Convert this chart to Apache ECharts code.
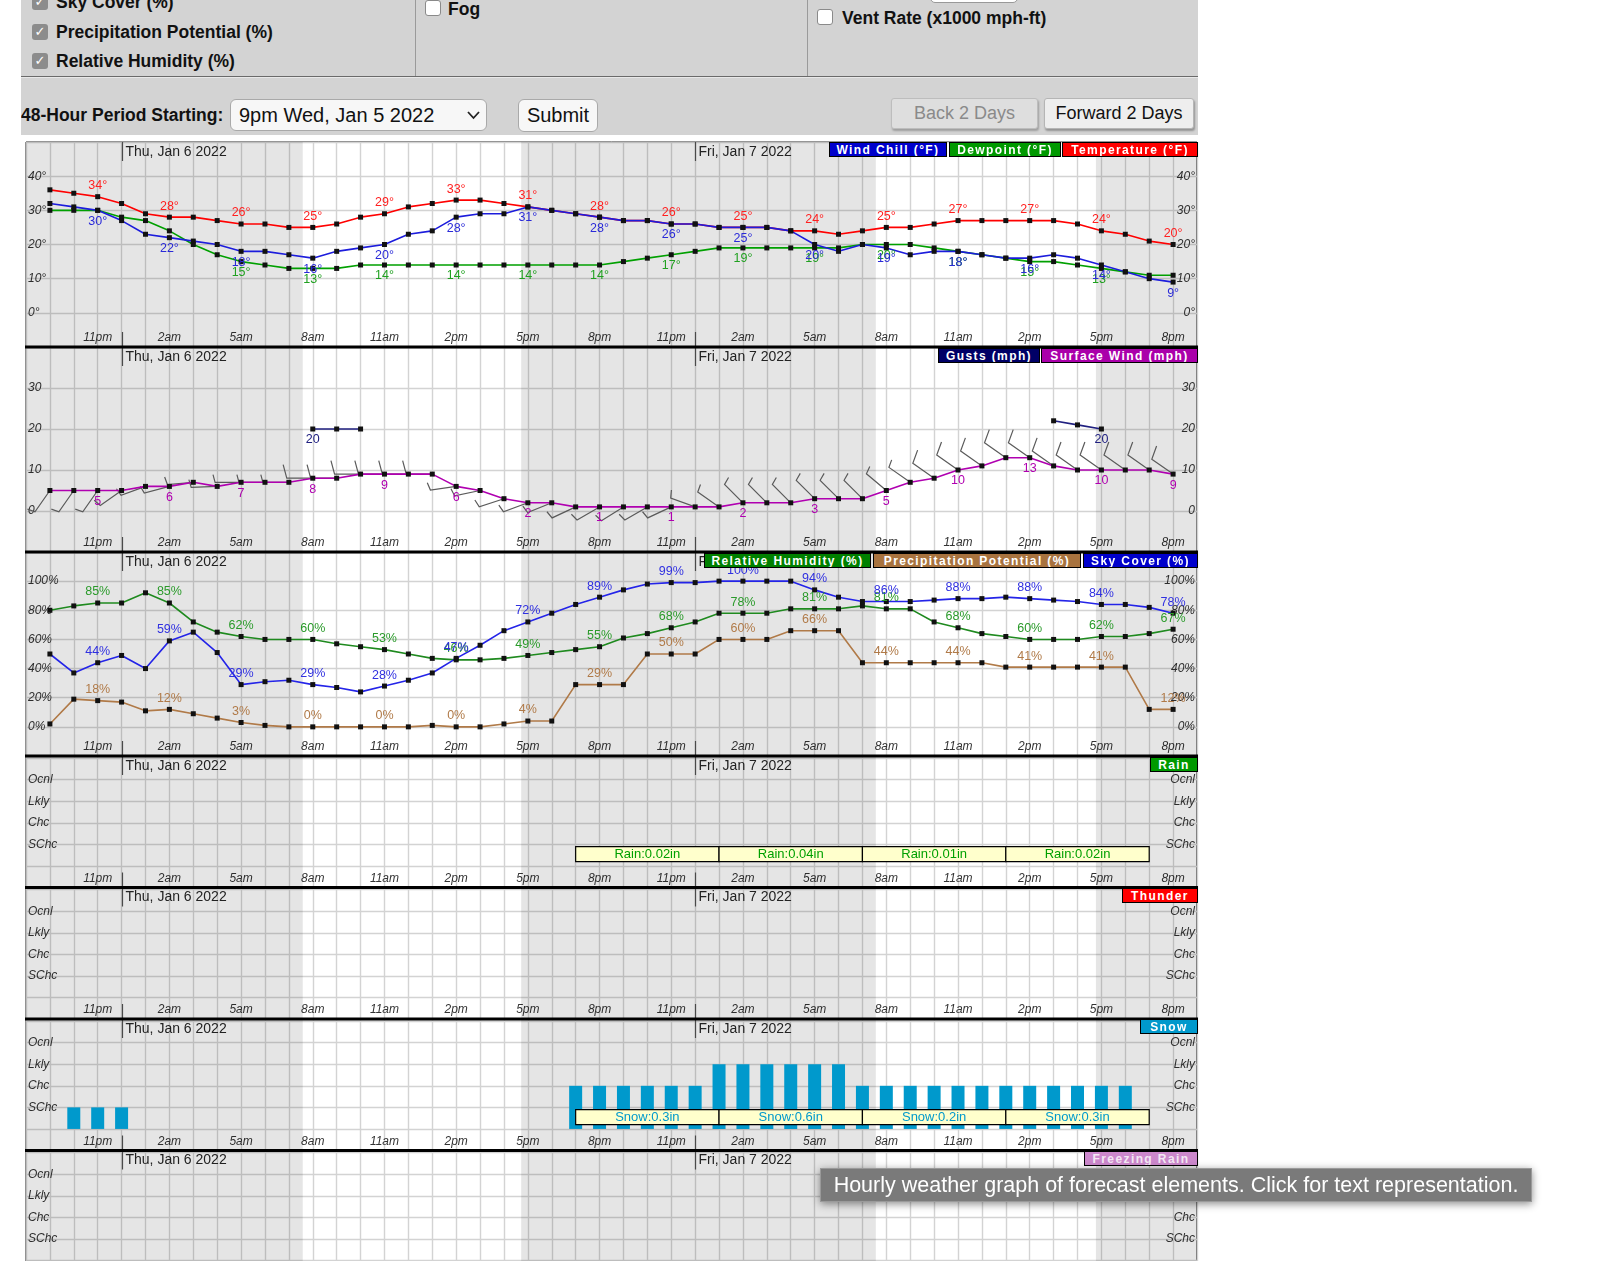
<!DOCTYPE html>
<html><head><meta charset="utf-8">
<script src="https://cdn.jsdelivr.net/npm/echarts@6/dist/echarts.min.js"></script>
<style>
html,body{margin:0;padding:0;background:#fff;width:1600px;height:1261px;overflow:hidden;font-family:"Liberation Sans",Arial,Helvetica,sans-serif;}
#chart{position:absolute;left:0;top:0;width:1600px;height:1300px;}
.a{position:absolute;white-space:nowrap;}
.cb{position:absolute;width:16px;height:16px;border-radius:3px;background:#8c8c8c;color:#fff;font:bold 13px/16px "DejaVu Sans",sans-serif;text-align:center;}
.cbu{position:absolute;width:16px;height:16px;border-radius:3px;background:#fff;border:1px solid #8a8a8a;box-sizing:border-box;}
.lab{position:absolute;font:bold 17.5px/20px "Liberation Sans",Arial,sans-serif;color:#111;white-space:nowrap;}
.btn{position:absolute;box-sizing:border-box;border:1px solid #a9a9a9;border-radius:6px;text-align:center;white-space:nowrap;}
.lg{position:absolute;box-sizing:border-box;height:15px;line-height:14px;font:bold 12px/14px "Liberation Sans",Arial,sans-serif;color:#fff;letter-spacing:1.4px;text-align:center;border:1px solid #000;white-space:nowrap;overflow:hidden;}
</style></head><body>
<div id="chart"></div>

<!-- form area -->
<div class="a" style="left:21px;top:0;width:1177px;height:135px;background:#d3d3d3;"></div>
<div class="a" style="left:415px;top:0;width:1px;height:76px;background:#9a9a9a;"></div>
<div class="a" style="left:807px;top:0;width:1px;height:76px;background:#9a9a9a;"></div>
<div class="a" style="left:21px;top:76px;width:1177px;height:1px;background:#6a6a6a;"></div>
<div class="a" style="left:21px;top:77px;width:1177px;height:1px;background:#e8e8e8;"></div>
<div class="a" style="left:930px;top:-22px;width:88px;height:25px;background:#fff;border:1px solid #999;border-radius:5px;box-sizing:border-box;"></div>

<div class="cb" style="left:32px;top:-6px;">&#10003;</div><div class="lab" style="left:56px;top:-8px;">Sky Cover (%)</div>
<div class="cb" style="left:32px;top:24px;">&#10003;</div><div class="lab" style="left:56px;top:22px;">Precipitation Potential (%)</div>
<div class="cb" style="left:32px;top:53px;">&#10003;</div><div class="lab" style="left:56px;top:51px;">Relative Humidity (%)</div>
<div class="cbu" style="left:425px;top:0px;"></div><div class="lab" style="left:448px;top:-1px;">Fog</div>
<div class="cbu" style="left:817px;top:9px;"></div><div class="lab" style="left:842px;top:8px;">Vent Rate (x1000 mph-ft)</div>

<div class="lab" style="left:21px;top:105px;">48-Hour Period Starting:</div>
<div class="btn" style="left:230px;top:99px;width:257px;height:32px;background:#f7f7f7;font:20px/30px 'Liberation Sans',Arial,sans-serif;text-align:left;padding-left:8px;color:#111;">9pm Wed, Jan 5 2022
  <svg style="position:absolute;left:236px;top:11px" width="13" height="9"><polyline points="1,1 6.5,7 12,1" fill="none" stroke="#222" stroke-width="1.8"/></svg></div>
<div class="btn" style="left:518px;top:99px;width:80px;height:33px;background:#f7f7f7;font:20px/31px 'Liberation Sans',Arial,sans-serif;color:#111;">Submit</div>
<div class="btn" style="left:891px;top:98px;width:147px;height:31px;background:#dedede;border-color:#bdbdbd;border-radius:3px;font:18px/29px 'Liberation Sans',Arial,sans-serif;color:#8a8a8a;box-shadow:1px 2px 2px rgba(0,0,0,0.25);">Back 2 Days</div>
<div class="btn" style="left:1044px;top:98px;width:150px;height:31px;background:#eeeeee;border-color:#b5b5b5;border-radius:3px;font:18px/29px 'Liberation Sans',Arial,sans-serif;color:#111;box-shadow:1px 2px 2px rgba(0,0,0,0.3);">Forward 2 Days</div>

<!-- legend boxes -->
<div class="lg" style="left:829px;top:142px;width:118px;background:#0000cc;">Wind Chill (°F)</div>
<div class="lg" style="left:949px;top:142px;width:112px;background:#009900;">Dewpoint (°F)</div>
<div class="lg" style="left:1062px;top:142px;width:136px;background:#ff0000;">Temperature (°F)</div>
<div class="lg" style="left:938px;top:348px;width:102px;background:#000066;">Gusts (mph)</div>
<div class="lg" style="left:1041px;top:348px;width:157px;background:#aa00aa;">Surface Wind (mph)</div>
<div class="lg" style="left:704px;top:553px;width:167px;background:#008000;">Relative Humidity (%)</div>
<div class="lg" style="left:873px;top:553px;width:208px;background:#a8733f;">Precipitation Potential (%)</div>
<div class="lg" style="left:1083px;top:553px;width:115px;background:#0000cc;">Sky Cover (%)</div>
<div class="lg" style="left:1150px;top:757px;width:48px;background:#009900;">Rain</div>
<div class="lg" style="left:1122px;top:888px;width:76px;background:#ff0000;">Thunder</div>
<div class="lg" style="left:1140px;top:1019px;width:58px;background:#0099cc;">Snow</div>
<div class="lg" style="left:1084px;top:1151px;width:114px;background:#cc88cc;color:#f4e8f4;">Freezing Rain</div>

<div class="a" style="left:820px;top:1168px;width:712px;height:34px;background:#7a7a7a;border:1px solid #9a9a9a;box-sizing:border-box;color:#fff;font:21.5px/32px 'Liberation Sans',Arial,sans-serif;text-align:center;box-shadow:0 2px 8px rgba(0,0,0,0.45);">Hourly weather graph of forecast elements. Click for text representation.</div>

<script>
// ---------------- data ----------------
const hourLabels = ['9pm','10pm','11pm','12am','1am','2am','3am','4am','5am','6am','7am','8am','9am','10am','11am','12pm','1pm','2pm','3pm','4pm','5pm','6pm','7pm','8pm',
                    '9pm','10pm','11pm','12am','1am','2am','3am','4am','5am','6am','7am','8am','9am','10am','11am','12pm','1pm','2pm','3pm','4pm','5pm','6pm','7pm','8pm'];
const dateLabels = ['Thu, Jan 6 2022','Fri, Jan 7 2022'];
const midnightIdx = [3, 27];
const nightBands = [[-1, 10.58], [19.72, 34.56], [43.77, 48]];

const temperature = [36,35,34,32,29,28,28,27,26,26,25,25,26,28,29,31,32,33,33,32,31,30,29,28,
                     27,27,26,26,25,25,25,24,24,23,24,25,25,26,27,27,27,27,27,26,24,23,21,20];
const windChill   = [32,31,30,27,23,22,21,20,18,18,17,16,18,19,20,23,24,28,29,29,31,30,29,28,
                     27,27,26,26,25,25,25,24,20,18,20,19,17,18,18,17,16,16,17,16,14,12,10,9];
const dewpoint    = [30,30,30,28,27,24,20,17,15,14,13,13,13,14,14,14,14,14,14,14,14,14,14,14,
                     15,16,17,18,19,19,19,19,19,19,20,20,20,19,18,17,16,15,15,14,13,12,11,11];
const dewLabelIdx = [8,11,14,17,20,23,26,29,32,35,38,41,44];

const surfaceWind = [5,5,5,5,6,6,7,6,7,7,7,8,8,9,9,9,9,6,5,3,2,2,1,1,
                     1,1,1,1,1,2,2,2,3,3,3,5,7,8,10,11,13,13,11,10,10,10,10,9];
const windDir     = [215,215,215,235,250,255,265,268,270,270,270,270,270,270,270,270,270,262,258,252,250,248,245,240,
                     238,240,245,290,305,315,315,315,315,315,315,310,305,305,305,305,305,305,305,305,305,305,305,305];
const gusts       = [null,null,null,null,null,null,null,null,null,null,null,20,20,20,null,null,null,null,null,null,null,null,null,null,
                     null,null,null,null,null,null,null,null,null,null,null,null,null,null,null,null,null,null,22,21,20,null,null,null];
const gustLabelIdx = [11, 44];

const relHumidity     = [80,83,85,85,92,85,72,65,62,60,60,60,57,55,53,50,47,46,46,47,49,51,53,55,
                         61,64,68,72,78,78,78,81,81,81,83,81,81,72,68,64,62,60,60,60,62,62,64,67];
const skyCover        = [50,37,44,49,40,59,65,51,29,31,32,29,27,24,28,32,37,47,56,66,72,78,84,89,
                         94,98,99,99,100,100,100,100,94,89,86,86,86,87,88,88,89,88,87,86,84,84,82,78];
const precipPotential = [2,19,18,17,11,12,9,6,3,1,0,0,0,0,0,0,1,0,0,2,4,4,29,29,
                         29,50,50,50,60,60,60,66,66,66,44,44,44,44,44,44,41,41,41,41,41,41,12,12];

const levelLabels = ['', 'SChc', 'Chc', 'Lkly', 'Ocnl'];
const snowLevel = [0,1,1,1,0,0,0,0,0,0,0,0,0,0,0,0,0,0,0,0,0,0,2,2,
                   2,2,2,2,3,3,3,3,3,3,2,2,2,2,2,2,2,2,2,2,2,2,0,0];
const qpfPeriods  = [[22,28],[28,34],[34,40],[40,46]];
const rainAmounts = ['0.02','0.04','0.01','0.02'];
const snowAmounts = ['0.3','0.6','0.2','0.3'];

// ---------------- layout ----------------
const FONT = '"Liberation Sans", Arial, Helvetica, sans-serif';
const GL = 26, GW = 1171;
const every3 = hourLabels.map((h,i)=>i).filter(i=>(i-2)%3===0);
const panels = [
  {top:142,   h:205,   min:-10, max:50,  interval:10, fmt:v=>(v>=0&&v<=40)?v+'°':''},
  {top:347,   h:205,   min:-10, max:40,  interval:10, fmt:v=>(v>=0&&v<=30)?String(v):''},
  {top:552,   h:204,   min:-20, max:120, interval:20, fmt:v=>(v>=0&&v<=100)?v+'%':''},
  {top:756,   h:131.5, min:-1,  max:5.1, interval:1,  fmt:v=>levelLabels[v]||''},
  {top:887.5, h:131.5, min:-1,  max:5.1, interval:1,  fmt:v=>levelLabels[v]||''},
  {top:1019,  h:131.5, min:-1,  max:5.1, interval:1,  fmt:v=>levelLabels[v]||''},
  {top:1150.5,h:131.5, min:-1,  max:5.1, interval:1,  fmt:v=>levelLabels[v]||''}
];
const gridLine = {color:'#d3d3d3', width:1.4};
const axisFont = {fontStyle:'italic', fontSize:12, color:'#333', fontFamily:FONT};

const grid = [], xAxis = [], yAxis = [], series = [];
panels.forEach((p,g)=>{
  grid.push({left:GL, top:p.top, width:GW, height:p.h, show:true, borderColor:'#000', borderWidth:1, backgroundColor:'transparent'});
  xAxis.push({gridIndex:g, type:'value', min:-1, max:48, interval:1,
    axisLine:{show:false}, axisTick:{show:false},
    splitLine:{show:true, lineStyle:gridLine},
    axisLabel:Object.assign({inside:true, margin:3, verticalAlign:'bottom',
      formatter:v=>(Number.isInteger(v)&&v>=0&&v<=47&&(v-2)%3===0)?hourLabels[v]:''}, axisFont)});
  yAxis.push({gridIndex:g, type:'value', min:p.min, max:p.max, interval:p.interval, position:'left',
    axisLine:{show:false}, axisTick:{show:false},
    splitLine:{show:true, lineStyle:gridLine},
    axisLabel:Object.assign({inside:true, margin:2, formatter:p.fmt}, axisFont)});
  yAxis.push({gridIndex:g, type:'value', min:p.min, max:p.max, interval:p.interval, position:'right',
    axisLine:{show:false}, axisTick:{show:false}, splitLine:{show:false},
    axisLabel:Object.assign({inside:true, margin:2, formatter:p.fmt}, axisFont)});
  // night shading
  series.push({type:'line', xAxisIndex:g, yAxisIndex:2*g, data:[], silent:true, z:1,
    markArea:{silent:true, itemStyle:{color:'rgba(0,0,0,0.1)'}, data:nightBands.map(b=>[{xAxis:b[0]},{xAxis:b[1]}])}});
  // date labels + midnight markers
  series.push({type:'custom', xAxisIndex:g, yAxisIndex:2*g, silent:true, z:5,
    data:midnightIdx.map(i=>[i, p.min]),
    renderItem:(params, api)=>{
      const cs = params.coordSys;
      const x = Math.round(api.coord([api.value(0), api.value(1)])[0]) + 0.5;
      const top = cs.y, bot = cs.y + cs.height;
      return {type:'group', children:[
        {type:'line', shape:{x1:x,y1:top,x2:x,y2:top+19}, style:{stroke:'#4a4a4a', lineWidth:1.2}},
        {type:'line', shape:{x1:x,y1:bot-15,x2:x,y2:bot}, style:{stroke:'#4a4a4a', lineWidth:1.2}},
        {type:'text', x:x+3, y:top+10, style:{text:dateLabels[params.dataIndex], font:'14px '+FONT, fill:'#222', align:'left', verticalAlign:'middle'}}
      ]};
    }});
});

function lineSeries(g, yIdx, values, color, labelColor, pos, labelIdx, suffix, width){
  return {type:'line', xAxisIndex:g, yAxisIndex:yIdx, z:3,
    data:values.map((v,i)=>[i, v==null?'-':v]),
    symbol:'rect', symbolSize:5, itemStyle:{color:'#111'},
    lineStyle:{color:color, width:width||1.6}, connectNulls:false,
    emphasis:{disabled:true}, silent:true,
    label:{show:true, position:pos, distance:2, color:labelColor, fontSize:12.5, fontFamily:FONT,
      formatter:p=>labelIdx.includes(p.value[0])?(p.value[1]+suffix):''}};
}

// panel 1: temperatures
series.push(lineSeries(0,0,temperature,'#ff0000','#ff2020','top',every3,'°'));
series.push(lineSeries(0,0,dewpoint,'#00a000','#20a020','bottom',dewLabelIdx,'°'));
series.push(lineSeries(0,0,windChill,'#1c1cdc','#2a2ad8','bottom',every3,'°'));

// panel 2: wind
series.push({type:'custom', xAxisIndex:1, yAxisIndex:2, z:2, silent:true,
  data:surfaceWind.map((s,i)=>[i, s, windDir[i]]),
  renderItem:(params, api)=>{
    const i = api.value(0), spd = api.value(1), dir = api.value(2);
    const p = api.coord([i, spd]);
    const a = (90 - dir) * Math.PI / 180;
    const L = 26;
    const ex = p[0] + Math.cos(a)*L, ey = p[1] - Math.sin(a)*L;
    const b = a - 75*Math.PI/180;
    const bl = spd >= 8 ? 14 : 8;
    const bx = ex + Math.cos(b)*bl, by = ey - Math.sin(b)*bl;
    return {type:'polyline', shape:{points:[[p[0],p[1]],[ex,ey],[bx,by]]}, style:{stroke:'#5a5a5a', fill:null, lineWidth:1.2}};
  }});
series.push(lineSeries(1,2,surfaceWind,'#b000b0','#b000b0','bottom',every3,''));
series.push(lineSeries(1,2,gusts,'#202080','#202080','bottom',gustLabelIdx,''));

// panel 3: humidity / precip / sky
series.push(lineSeries(2,4,precipPotential,'#b07a48','#b07a48','top',every3,'%'));
series.push(lineSeries(2,4,relHumidity,'#1f8a1f','#2a9a2a','top',every3,'%'));
series.push(lineSeries(2,4,skyCover,'#2424e8','#3030e0','top',every3,'%'));

// QPF boxes
function qpfSeries(g, amounts, prefix, color){
  return {type:'custom', xAxisIndex:g, yAxisIndex:2*g, z:6, silent:true,
    data:qpfPeriods.map(q=>[q[0], q[1]]),
    renderItem:(params, api)=>{
      const p1 = api.coord([api.value(0), 0.9]), p2 = api.coord([api.value(1), 0.2]);
      return {type:'group', children:[
        {type:'rect', shape:{x:p1[0], y:p1[1], width:p2[0]-p1[0], height:p2[1]-p1[1]}, style:{fill:'#ffffcc', stroke:'#000', lineWidth:1.2}},
        {type:'text', x:(p1[0]+p2[0])/2, y:(p1[1]+p2[1])/2+0.5, style:{text:prefix+amounts[params.dataIndex]+'in', fill:color, font:'13px '+FONT, align:'center', verticalAlign:'middle'}}
      ]};
    }};
}
series.push(qpfSeries(3, rainAmounts, 'Rain:', '#00a000'));

// snow bars
series.push({type:'bar', xAxisIndex:5, yAxisIndex:10, z:3, silent:true, barWidth:13,
  data:snowLevel.map((v,i)=>[i, v]).filter(d=>d[1]>0),
  itemStyle:{color:'#0099cc'}});
series.push(qpfSeries(5, snowAmounts, 'Snow:', '#0099cc'));

// separators
const graphic = [];
[347, 552, 756, 887.5, 1019, 1150.5].forEach(y=>{
  graphic.push({type:'rect', shape:{x:25, y:y-1.5, width:1173, height:3}, style:{fill:'#000'}, z:100, silent:true});
});

const chart = echarts.init(document.getElementById('chart'), null, {renderer:'canvas'});
chart.setOption({animation:false, backgroundColor:'transparent', grid, xAxis, yAxis, series, graphic});
</script>
</body></html>
